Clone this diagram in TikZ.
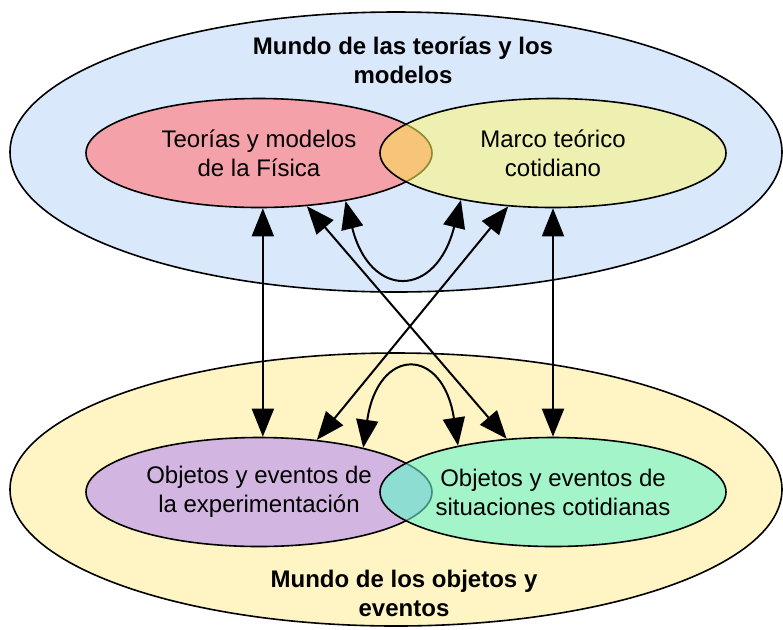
\documentclass[tikz,border=0pt]{standalone}
\usepackage{fontspec}
\setmainfont{Liberation Sans}
\usetikzlibrary{shapes,arrows.meta}
\definecolor{mundoA}{HTML}{DAE8FC}
\definecolor{mundoB}{HTML}{FFF4C3}
\definecolor{rosa}{HTML}{F4A1AA}
\definecolor{amarillo}{HTML}{EDF0B1}
\definecolor{naranja}{HTML}{F7C57A}
\definecolor{oliva}{HTML}{8C8A2E}
\definecolor{lila}{HTML}{D2B5E0}
\definecolor{verde}{HTML}{A3F5C9}
\definecolor{turquesa}{HTML}{8EDDD2}
\definecolor{verdeosc}{HTML}{3E8F7A}
\tikzstyle{mundo}=[ellipse, draw=black, line width=0.8pt, inner sep=0pt]
\tikzstyle{campo}=[ellipse, draw=black, line width=0.8pt, inner sep=0pt, minimum width=173pt, minimum height=54.5pt, align=center, font=\fontsize{12}{14.5}\selectfont]
\tikzstyle{titulo}=[align=center, font=\fontsize{12}{14.5}\selectfont\bfseries]
\tikzstyle{l1}=[line width=1pt, <->]

\begin{document}
\begin{tikzpicture}[x=0.5pt, y=-0.5pt, >={Triangle[length=14pt, width=11pt]}]
    \useasboundingbox (0,0) rectangle (783,629);
    \node (teorias) [mundo, fill=mundoA, minimum width=386pt, minimum height=140pt] at (396,152) {};
    \node (objetos) [mundo, fill=mundoB, minimum width=386pt, minimum height=136.5pt] at (396,489.5) {};
    \node (tteo) [titulo] at (403,60) {Mundo de las teorías y los\\modelos};
    \node (tobj) [titulo] at (404,593) {Mundo de los objetos y\\eventos};

    \node (fisica) [campo, fill=rosa] at (259,153) {Teorías y modelos\\de la Física};
    \node (marco) [campo, fill=amarillo, path picture={
        \fill[naranja] (fisica.center) ellipse [x radius=86.5pt, y radius=27.25pt];
        \draw[oliva, line width=0.8pt] (fisica.center) ellipse [x radius=86.5pt, y radius=27.25pt];
    }] at (553,153) {Marco teórico\\cotidiano};

    \node (exper) [campo, fill=lila] at (259,492) {Objetos y eventos de\\la experimentación};
    \node (coti) [campo, fill=verde, path picture={
        \fill[turquesa] (exper.center) ellipse [x radius=86.5pt, y radius=27.25pt];
        \draw[verdeosc, line width=0.8pt] (exper.center) ellipse [x radius=86.5pt, y radius=27.25pt];
    }] at (553,492) {Objetos y eventos de\\situaciones cotidianas};

    % relaciones
    \draw[l1] (fisica.-86) -- (exper.86);
    \draw[l1] (marco.south) -- (coti.north);
    \draw[l1] (fisica.-48) -- (coti.131);
    \draw[l1] (marco.-130) -- (exper.42);
    \draw[l1] (fisica.-29) .. controls (370,299) and (436,299) .. (marco.-153);
    \draw[l1] (exper.23) .. controls (378,346) and (443,346) .. (coti.154);
\end{tikzpicture}
\end{document}
